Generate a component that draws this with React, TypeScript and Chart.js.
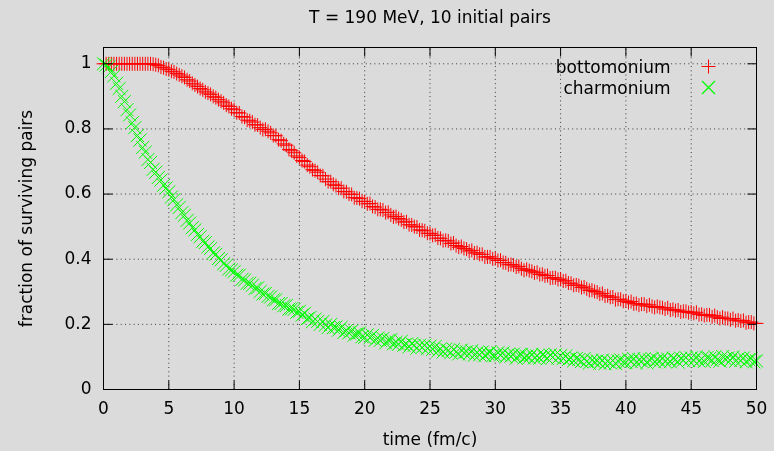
import React, { useEffect, useRef } from 'react';
import { Chart, registerables } from 'chart.js';

Chart.register(...registerables);

// Sampling times (fm/c)
const TIME = [
  0, 0.2, 0.4, 0.6, 0.8, 1, 1.2, 1.4, 1.6, 1.8, 2, 2.2, 2.4, 2.6, 2.8, 3, 3.2, 3.4, 3.6, 3.8, 4, 4.2, 4.4, 4.6, 4.8,
  5, 5.2, 5.4, 5.6, 5.8, 6, 6.2, 6.4, 6.6, 6.8, 7, 7.2, 7.4, 7.6, 7.8, 8, 8.2, 8.4, 8.6, 8.8, 9, 9.2, 9.4, 9.6, 9.8,
  10, 10.2, 10.4, 10.6, 10.8, 11, 11.2, 11.4, 11.6, 11.8, 12, 12.2, 12.4, 12.6, 12.8, 13, 13.2, 13.4, 13.6, 13.8, 14, 14.2, 14.4, 14.6, 14.8,
  15, 15.2, 15.4, 15.6, 15.8, 16, 16.2, 16.4, 16.6, 16.8, 17, 17.2, 17.4, 17.6, 17.8, 18, 18.2, 18.4, 18.6, 18.8, 19, 19.2, 19.4, 19.6, 19.8,
  20, 20.2, 20.4, 20.6, 20.8, 21, 21.2, 21.4, 21.6, 21.8, 22, 22.2, 22.4, 22.6, 22.8, 23, 23.2, 23.4, 23.6, 23.8, 24, 24.2, 24.4, 24.6, 24.8,
  25, 25.2, 25.4, 25.6, 25.8, 26, 26.2, 26.4, 26.6, 26.8, 27, 27.2, 27.4, 27.6, 27.8, 28, 28.2, 28.4, 28.6, 28.8, 29, 29.2, 29.4, 29.6, 29.8,
  30, 30.2, 30.4, 30.6, 30.8, 31, 31.2, 31.4, 31.6, 31.8, 32, 32.2, 32.4, 32.6, 32.8, 33, 33.2, 33.4, 33.6, 33.8, 34, 34.2, 34.4, 34.6, 34.8,
  35, 35.2, 35.4, 35.6, 35.8, 36, 36.2, 36.4, 36.6, 36.8, 37, 37.2, 37.4, 37.6, 37.8, 38, 38.2, 38.4, 38.6, 38.8, 39, 39.2, 39.4, 39.6, 39.8,
  40, 40.2, 40.4, 40.6, 40.8, 41, 41.2, 41.4, 41.6, 41.8, 42, 42.2, 42.4, 42.6, 42.8, 43, 43.2, 43.4, 43.6, 43.8, 44, 44.2, 44.4, 44.6, 44.8,
  45, 45.2, 45.4, 45.6, 45.8, 46, 46.2, 46.4, 46.6, 46.8, 47, 47.2, 47.4, 47.6, 47.8, 48, 48.2, 48.4, 48.6, 48.8, 49, 49.2, 49.4, 49.6, 49.8,
  50,
];

// Surviving fraction of b-bbar pairs
const BOTTOMONIUM = [
  1, 1, 1, 1, 1, 1, 1, 1, 1, 1, 1, 1, 1, 1, 1, 1, 1, 1, 1, 0.999, 0.997, 0.995, 0.990, 0.988, 0.984,
  0.982, 0.977, 0.975, 0.970, 0.966, 0.962, 0.958, 0.951, 0.947, 0.940, 0.935, 0.930, 0.924, 0.920, 0.914, 0.910, 0.906, 0.900, 0.896, 0.890, 0.885, 0.880, 0.873, 0.869, 0.862,
  0.859, 0.850, 0.849, 0.838, 0.836, 0.827, 0.825, 0.821, 0.813, 0.812, 0.804, 0.798, 0.799, 0.793, 0.788, 0.780, 0.779, 0.767, 0.764, 0.754, 0.750, 0.737, 0.733, 0.727, 0.717,
  0.712, 0.703, 0.700, 0.689, 0.684, 0.675, 0.672, 0.667, 0.657, 0.656, 0.646, 0.638, 0.638, 0.630, 0.626, 0.618, 0.618, 0.608, 0.607, 0.600, 0.599, 0.589, 0.588, 0.586, 0.578,
  0.577, 0.570, 0.571, 0.562, 0.560, 0.553, 0.553, 0.551, 0.543, 0.544, 0.536, 0.530, 0.531, 0.525, 0.521, 0.514, 0.515, 0.506, 0.505, 0.500, 0.499, 0.490, 0.489, 0.487, 0.480,
  0.479, 0.473, 0.474, 0.465, 0.464, 0.457, 0.458, 0.456, 0.448, 0.450, 0.442, 0.437, 0.439, 0.433, 0.431, 0.425, 0.427, 0.419, 0.420, 0.415, 0.415, 0.407, 0.407, 0.407, 0.401,
  0.402, 0.396, 0.397, 0.390, 0.389, 0.383, 0.384, 0.382, 0.376, 0.378, 0.371, 0.366, 0.369, 0.365, 0.363, 0.358, 0.360, 0.353, 0.354, 0.349, 0.350, 0.342, 0.343, 0.343, 0.338,
  0.339, 0.333, 0.334, 0.327, 0.326, 0.320, 0.321, 0.319, 0.313, 0.315, 0.309, 0.304, 0.305, 0.301, 0.299, 0.293, 0.295, 0.287, 0.288, 0.283, 0.284, 0.276, 0.277, 0.277, 0.271,
  0.272, 0.267, 0.270, 0.263, 0.264, 0.259, 0.262, 0.262, 0.256, 0.260, 0.255, 0.252, 0.255, 0.252, 0.251, 0.247, 0.251, 0.244, 0.246, 0.242, 0.244, 0.238, 0.240, 0.240, 0.236,
  0.238, 0.234, 0.237, 0.230, 0.231, 0.227, 0.229, 0.229, 0.223, 0.227, 0.222, 0.218, 0.222, 0.218, 0.218, 0.214, 0.218, 0.211, 0.213, 0.210, 0.212, 0.205, 0.207, 0.207, 0.203,
  0.203,
];

// Surviving fraction of c-cbar pairs
const CHARMONIUM = [
  1.000, 0.996, 0.990, 0.976, 0.963, 0.940, 0.924, 0.900, 0.884, 0.859, 0.843, 0.819, 0.804, 0.780, 0.766, 0.743, 0.729, 0.706, 0.697, 0.676, 0.667, 0.651, 0.643, 0.627, 0.619,
  0.607, 0.591, 0.583, 0.567, 0.559, 0.543, 0.535, 0.519, 0.511, 0.497, 0.490, 0.476, 0.469, 0.455, 0.451, 0.438, 0.433, 0.419, 0.415, 0.402, 0.398, 0.386, 0.381, 0.370, 0.367,
  0.362, 0.351, 0.351, 0.338, 0.336, 0.326, 0.326, 0.320, 0.310, 0.312, 0.301, 0.293, 0.295, 0.286, 0.284, 0.275, 0.276, 0.264, 0.264, 0.257, 0.258, 0.247, 0.248, 0.246, 0.237,
  0.240, 0.228, 0.234, 0.217, 0.221, 0.208, 0.216, 0.209, 0.200, 0.209, 0.198, 0.190, 0.200, 0.190, 0.192, 0.182, 0.191, 0.175, 0.181, 0.174, 0.180, 0.167, 0.171, 0.174, 0.162,
  0.160, 0.168, 0.159, 0.166, 0.151, 0.158, 0.151, 0.157, 0.143, 0.151, 0.153, 0.140, 0.145, 0.139, 0.148, 0.136, 0.140, 0.131, 0.141, 0.136, 0.127, 0.136, 0.129, 0.136, 0.126,
  0.133, 0.123, 0.132, 0.118, 0.125, 0.115, 0.124, 0.120, 0.113, 0.123, 0.115, 0.109, 0.121, 0.113, 0.116, 0.109, 0.119, 0.105, 0.113, 0.107, 0.115, 0.104, 0.110, 0.115, 0.104,
  0.104, 0.113, 0.106, 0.113, 0.100, 0.108, 0.102, 0.109, 0.096, 0.105, 0.108, 0.097, 0.102, 0.098, 0.108, 0.097, 0.103, 0.096, 0.107, 0.103, 0.095, 0.106, 0.099, 0.107, 0.097,
  0.104, 0.095, 0.103, 0.092, 0.097, 0.088, 0.095, 0.092, 0.086, 0.095, 0.086, 0.081, 0.090, 0.085, 0.088, 0.081, 0.090, 0.079, 0.086, 0.082, 0.089, 0.080, 0.088, 0.091, 0.084,
  0.083, 0.093, 0.086, 0.095, 0.082, 0.091, 0.087, 0.094, 0.082, 0.091, 0.095, 0.085, 0.091, 0.087, 0.097, 0.086, 0.093, 0.085, 0.096, 0.092, 0.084, 0.096, 0.090, 0.098, 0.089,
  0.097, 0.089, 0.100, 0.087, 0.095, 0.086, 0.098, 0.095, 0.089, 0.100, 0.092, 0.087, 0.101, 0.094, 0.097, 0.089, 0.100, 0.087, 0.095, 0.089, 0.097, 0.085, 0.092, 0.096, 0.085,
  0.088,
];

const X_TICKS = [0, 5, 10, 15, 20, 25, 30, 35, 40, 45, 50];
const X_TICK_LABELS = ['0', '5', '10', '15', '20', '25', '30', '35', '40', '45', '50'];
const Y_TICKS = [0, 0.2, 0.4, 0.6, 0.8, 1];
const Y_TICK_LABELS = ['0', '0.2', '0.4', '0.6', '0.8', '1'];

const TITLE = 'T = 190 MeV, 10 initial pairs';
const X_TITLE = 'time (fm/c)';
const Y_TITLE = 'fraction of surviving pairs';
const SERIES_NAMES = ['bottomonium', 'charmonium'];
const SERIES_COLORS = ['#ff0000', '#00ff00'];

const FONT_FAMILY = "'DejaVu Sans', 'Liberation Sans', sans-serif";
const FONT_SIZE = 17;
const BACKGROUND = '#dadbda';
const TEXT_COLOR = '#000000';

// Background, dotted grid, mirrored inward tics, frame and the key.
const framePlugin = {
  id: 'gnuplotFrame',
  beforeDraw(chart: any) {
    const { ctx, width, height } = chart;
    ctx.save();
    ctx.fillStyle = BACKGROUND;
    ctx.fillRect(0, 0, width, height);
    ctx.restore();
  },
  beforeDatasetsDraw(chart: any) {
    const { ctx, chartArea } = chart;
    const { left, right, top, bottom } = chartArea;
    const xs = chart.scales.x;
    const ys = chart.scales.y;
    ctx.save();
    ctx.strokeStyle = 'rgba(0,0,0,0.75)';
    ctx.lineWidth = 1;
    ctx.setLineDash([1, 3.3]);
    X_TICKS.forEach((v) => {
      const px = xs.getPixelForValue(v);
      ctx.beginPath();
      ctx.moveTo(px, bottom);
      ctx.lineTo(px, top);
      ctx.stroke();
    });
    Y_TICKS.forEach((v) => {
      const py = ys.getPixelForValue(v);
      ctx.beginPath();
      ctx.moveTo(left, py);
      ctx.lineTo(right, py);
      ctx.stroke();
    });
    ctx.restore();
  },
  afterDraw(chart: any) {
    const { ctx, chartArea } = chart;
    const { left, right, top, bottom } = chartArea;
    const xs = chart.scales.x;
    const ys = chart.scales.y;
    const tic = 9;
    ctx.save();
    ctx.strokeStyle = '#000000';
    ctx.lineWidth = 1;
    ctx.setLineDash([]);
    ctx.beginPath();
    X_TICKS.forEach((v) => {
      const px = xs.getPixelForValue(v);
      ctx.moveTo(px, bottom);
      ctx.lineTo(px, bottom - tic);
      ctx.moveTo(px, top);
      ctx.lineTo(px, top + tic);
    });
    Y_TICKS.forEach((v) => {
      const py = ys.getPixelForValue(v);
      ctx.moveTo(left, py);
      ctx.lineTo(left + tic, py);
      ctx.moveTo(right, py);
      ctx.lineTo(right - tic, py);
    });
    ctx.stroke();
    ctx.strokeRect(left, top, right - left, bottom - top);

    // key, top right inside the frame
    ctx.font = `${FONT_SIZE}px ${FONT_FAMILY}`;
    ctx.fillStyle = TEXT_COLOR;
    ctx.textAlign = 'right';
    ctx.textBaseline = 'alphabetic';
    const textRight = right - 86;
    const markX = right - 48;
    SERIES_NAMES.forEach((name, i) => {
      const rowY = top + 19 + i * 21;
      ctx.fillText(name, textRight, rowY + 6.8);
      ctx.strokeStyle = SERIES_COLORS[i];
      ctx.beginPath();
      if (i === 0) {
        ctx.lineWidth = 1;
        ctx.moveTo(markX - 7, rowY);
        ctx.lineTo(markX + 7, rowY);
        ctx.moveTo(markX, rowY - 7);
        ctx.lineTo(markX, rowY + 7);
      } else {
        const d = 6.5;
        ctx.lineWidth = 1.3;
        ctx.moveTo(markX - d, rowY - d);
        ctx.lineTo(markX + d, rowY + d);
        ctx.moveTo(markX + d, rowY - d);
        ctx.lineTo(markX - d, rowY + d);
      }
      ctx.stroke();
    });
    ctx.restore();
  },
};

export default function App() {
  const canvasRef = useRef<HTMLCanvasElement | null>(null);

  useEffect(() => {
    const canvas = canvasRef.current;
    if (!canvas) return;
    const font = { family: FONT_FAMILY, size: FONT_SIZE, weight: 'normal' as const };

    const chart = new Chart(canvas, {
      type: 'line',
      data: {
        labels: TIME,
        datasets: [
          {
            label: SERIES_NAMES[0],
            data: BOTTOMONIUM,
            showLine: false,
            pointStyle: 'cross',
            pointRadius: 7,
            pointHoverRadius: 7,
            borderColor: SERIES_COLORS[0],
            backgroundColor: SERIES_COLORS[0],
            pointBorderColor: SERIES_COLORS[0],
            pointBorderWidth: 1,
            borderWidth: 1,
            clip: false,
            order: 1,
          },
          {
            label: SERIES_NAMES[1],
            data: CHARMONIUM,
            showLine: false,
            pointStyle: 'crossRot',
            pointRadius: 9.2,
            pointHoverRadius: 9.2,
            borderColor: SERIES_COLORS[1],
            backgroundColor: SERIES_COLORS[1],
            pointBorderColor: SERIES_COLORS[1],
            pointBorderWidth: 1,
            borderWidth: 1,
            clip: false,
            order: 0,
          },
        ],
      },
      options: {
        responsive: false,
        devicePixelRatio: 1,
        animation: false,
        events: [],
        layout: { padding: { left: 0, right: 17.5, top: 0, bottom: 0 } },
        plugins: {
          legend: { display: false },
          tooltip: { enabled: false },
          title: {
            display: true,
            text: TITLE,
            color: TEXT_COLOR,
            font,
            fullSize: false,
            padding: { top: 8, bottom: 19.1 },
          },
        },
        scales: {
          x: {
            type: 'linear',
            min: 0,
            max: 50,
            afterBuildTicks: (s: any) => {
              s.ticks = X_TICKS.map((v) => ({ value: v }));
            },
            afterFit: (s: any) => {
              s.height = 61.5;
              s.paddingLeft = 0;
              s.paddingRight = 0;
            },
            grid: { display: false, drawTicks: false },
            border: { display: false },
            ticks: {
              padding: 9.5,
              color: TEXT_COLOR,
              font,
              maxRotation: 0,
              autoSkip: false,
              callback: (v: any) => X_TICK_LABELS[X_TICKS.indexOf(Number(v))] ?? '',
            },
            title: {
              display: true,
              text: X_TITLE,
              color: TEXT_COLOR,
              font,
              padding: { top: 0, bottom: 0.3 },
            },
          },
          y: {
            type: 'linear',
            min: 0,
            max: 1.05,
            afterBuildTicks: (s: any) => {
              s.ticks = Y_TICKS.map((v) => ({ value: v }));
            },
            afterFit: (s: any) => {
              s.width = 103.5;
              s.paddingTop = 0;
              s.paddingBottom = 0;
            },
            grid: { display: false, drawTicks: false },
            border: { display: false },
            ticks: {
              padding: 12,
              color: TEXT_COLOR,
              font,
              autoSkip: false,
              callback: (v: any) => Y_TICK_LABELS[Y_TICKS.indexOf(Number(v))] ?? '',
            },
            title: {
              display: true,
              text: Y_TITLE,
              color: TEXT_COLOR,
              font,
              padding: { top: 17.5, bottom: 0 },
            },
          },
        },
      },
      plugins: [framePlugin],
    });

    return () => {
      chart.destroy();
    };
  }, []);

  return (
    <div style={{ position: 'absolute', left: 0, top: 0, width: 774, height: 451 }}>
      <canvas ref={canvasRef} width={774} height={451} style={{ display: 'block', width: 774, height: 451 }} />
    </div>
  );
}
